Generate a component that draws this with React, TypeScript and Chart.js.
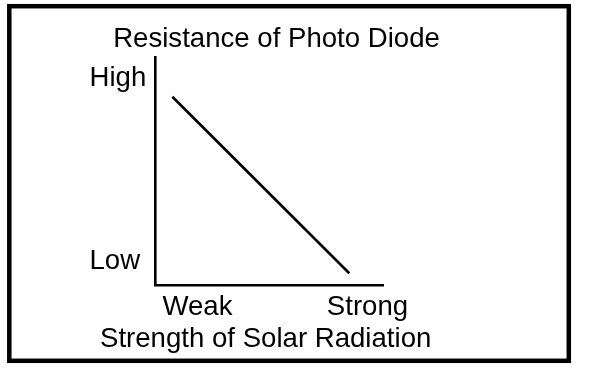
import React, { useEffect, useRef } from "react";
import { Chart, registerables } from "chart.js";

Chart.register(...registerables);

// Data (qualitative diagram: resistance falls as radiation strength rises)
const strengthValues = [0.76, 8.52];
const resistanceValues = [8.26, 0.51];
const xTickValues = [1.86, 9.32];
const xTickLabels = ["Weak", "Strong"];
const yTickValues = [1.04, 9.07];
const yTickLabels = ["Low", "High"];
const chartTitle = "Resistance of Photo Diode";
const xAxisTitle = "Strength of Solar Radiation";

const FONT_FAMILY = "'Liberation Sans', Arial, Helvetica, sans-serif";

const framePlugin = {
  id: "frame",
  beforeDraw(chart: any) {
    const ctx = chart.ctx;
    ctx.save();
    ctx.fillStyle = "#fff";
    ctx.fillRect(0, 0, chart.width, chart.height);
    ctx.strokeStyle = "#000";
    ctx.lineWidth = 4.5;
    ctx.strokeRect(9.3, 6.2, 559.5, 354.6);
    ctx.restore();
  },
};

export default function App() {
  const ref = useRef<HTMLCanvasElement>(null);

  useEffect(() => {
    const font = { family: FONT_FAMILY, size: 27.6, weight: "normal" as const };
    const chart = new Chart(ref.current as HTMLCanvasElement, {
      type: "line",
      data: {
        datasets: [
          {
            data: strengthValues.map((x, i) => ({ x, y: resistanceValues[i] })),
            borderColor: "#000",
            borderWidth: 2.6,
            pointRadius: 0,
            tension: 0,
            fill: false,
          },
        ],
      },
      options: {
        animation: false,
        responsive: false,
        maintainAspectRatio: false,
        layout: { padding: { left: 100, right: 155, top: 23, bottom: 18 } },
        plugins: {
          legend: { display: false },
          tooltip: { enabled: false },
          title: {
            display: true,
            text: chartTitle,
            color: "#000",
            font,
            align: "center",
            padding: { top: 0, bottom: 1 },
          },
          subtitle: {
            display: true,
            position: "bottom",
            text: xAxisTitle,
            color: "#000",
            font,
            align: "start",
            padding: { top: 0, bottom: 0 },
          },
        },
        scales: {
          x: {
            type: "linear",
            min: 0,
            max: 10,
            afterBuildTicks: (s: any) => {
              s.ticks = xTickValues.map((v) => ({ value: v }));
            },
            afterFit: (s: any) => {
              s.height = 38;
            },
            ticks: {
              callback: (v: any) => {
                const i = xTickValues.indexOf(v);
                return i >= 0 ? xTickLabels[i] : "";
              },
              color: "#000",
              font,
              padding: 5.7,
              autoSkip: false,
              maxRotation: 0,
            },
            grid: { display: false, drawTicks: false },
            border: { display: true, color: "#000", width: 2.6 },
          },
          y: {
            type: "linear",
            min: 0,
            max: 10,
            afterBuildTicks: (s: any) => {
              s.ticks = yTickValues.map((v) => ({ value: v }));
            },
            afterFit: (s: any) => {
              s.width = 55;
            },
            ticks: {
              callback: (v: any) => {
                const i = yTickValues.indexOf(v);
                return i >= 0 ? yTickLabels[i] : "";
              },
              color: "#000",
              font,
              mirror: true,
              padding: -65.5,
              autoSkip: false,
            },
            grid: { display: false, drawTicks: false },
            border: { display: true, color: "#000", width: 2.6 },
          },
          spacer: {
            type: "linear",
            position: "right",
            display: true,
            ticks: { display: false },
            grid: { display: false, drawTicks: false },
            border: { display: false },
            afterFit: (s: any) => {
              s.width = 70;
            },
          },
        },
      },
      plugins: [framePlugin],
    } as any);
    return () => chart.destroy();
  }, []);

  return (
    <div style={{ position: "fixed", left: 0, top: 0, width: 608, height: 374, background: "#fff" }}>
      <canvas ref={ref} width={608} height={374} style={{ display: "block", width: 608, height: 374 }} />
    </div>
  );
}
